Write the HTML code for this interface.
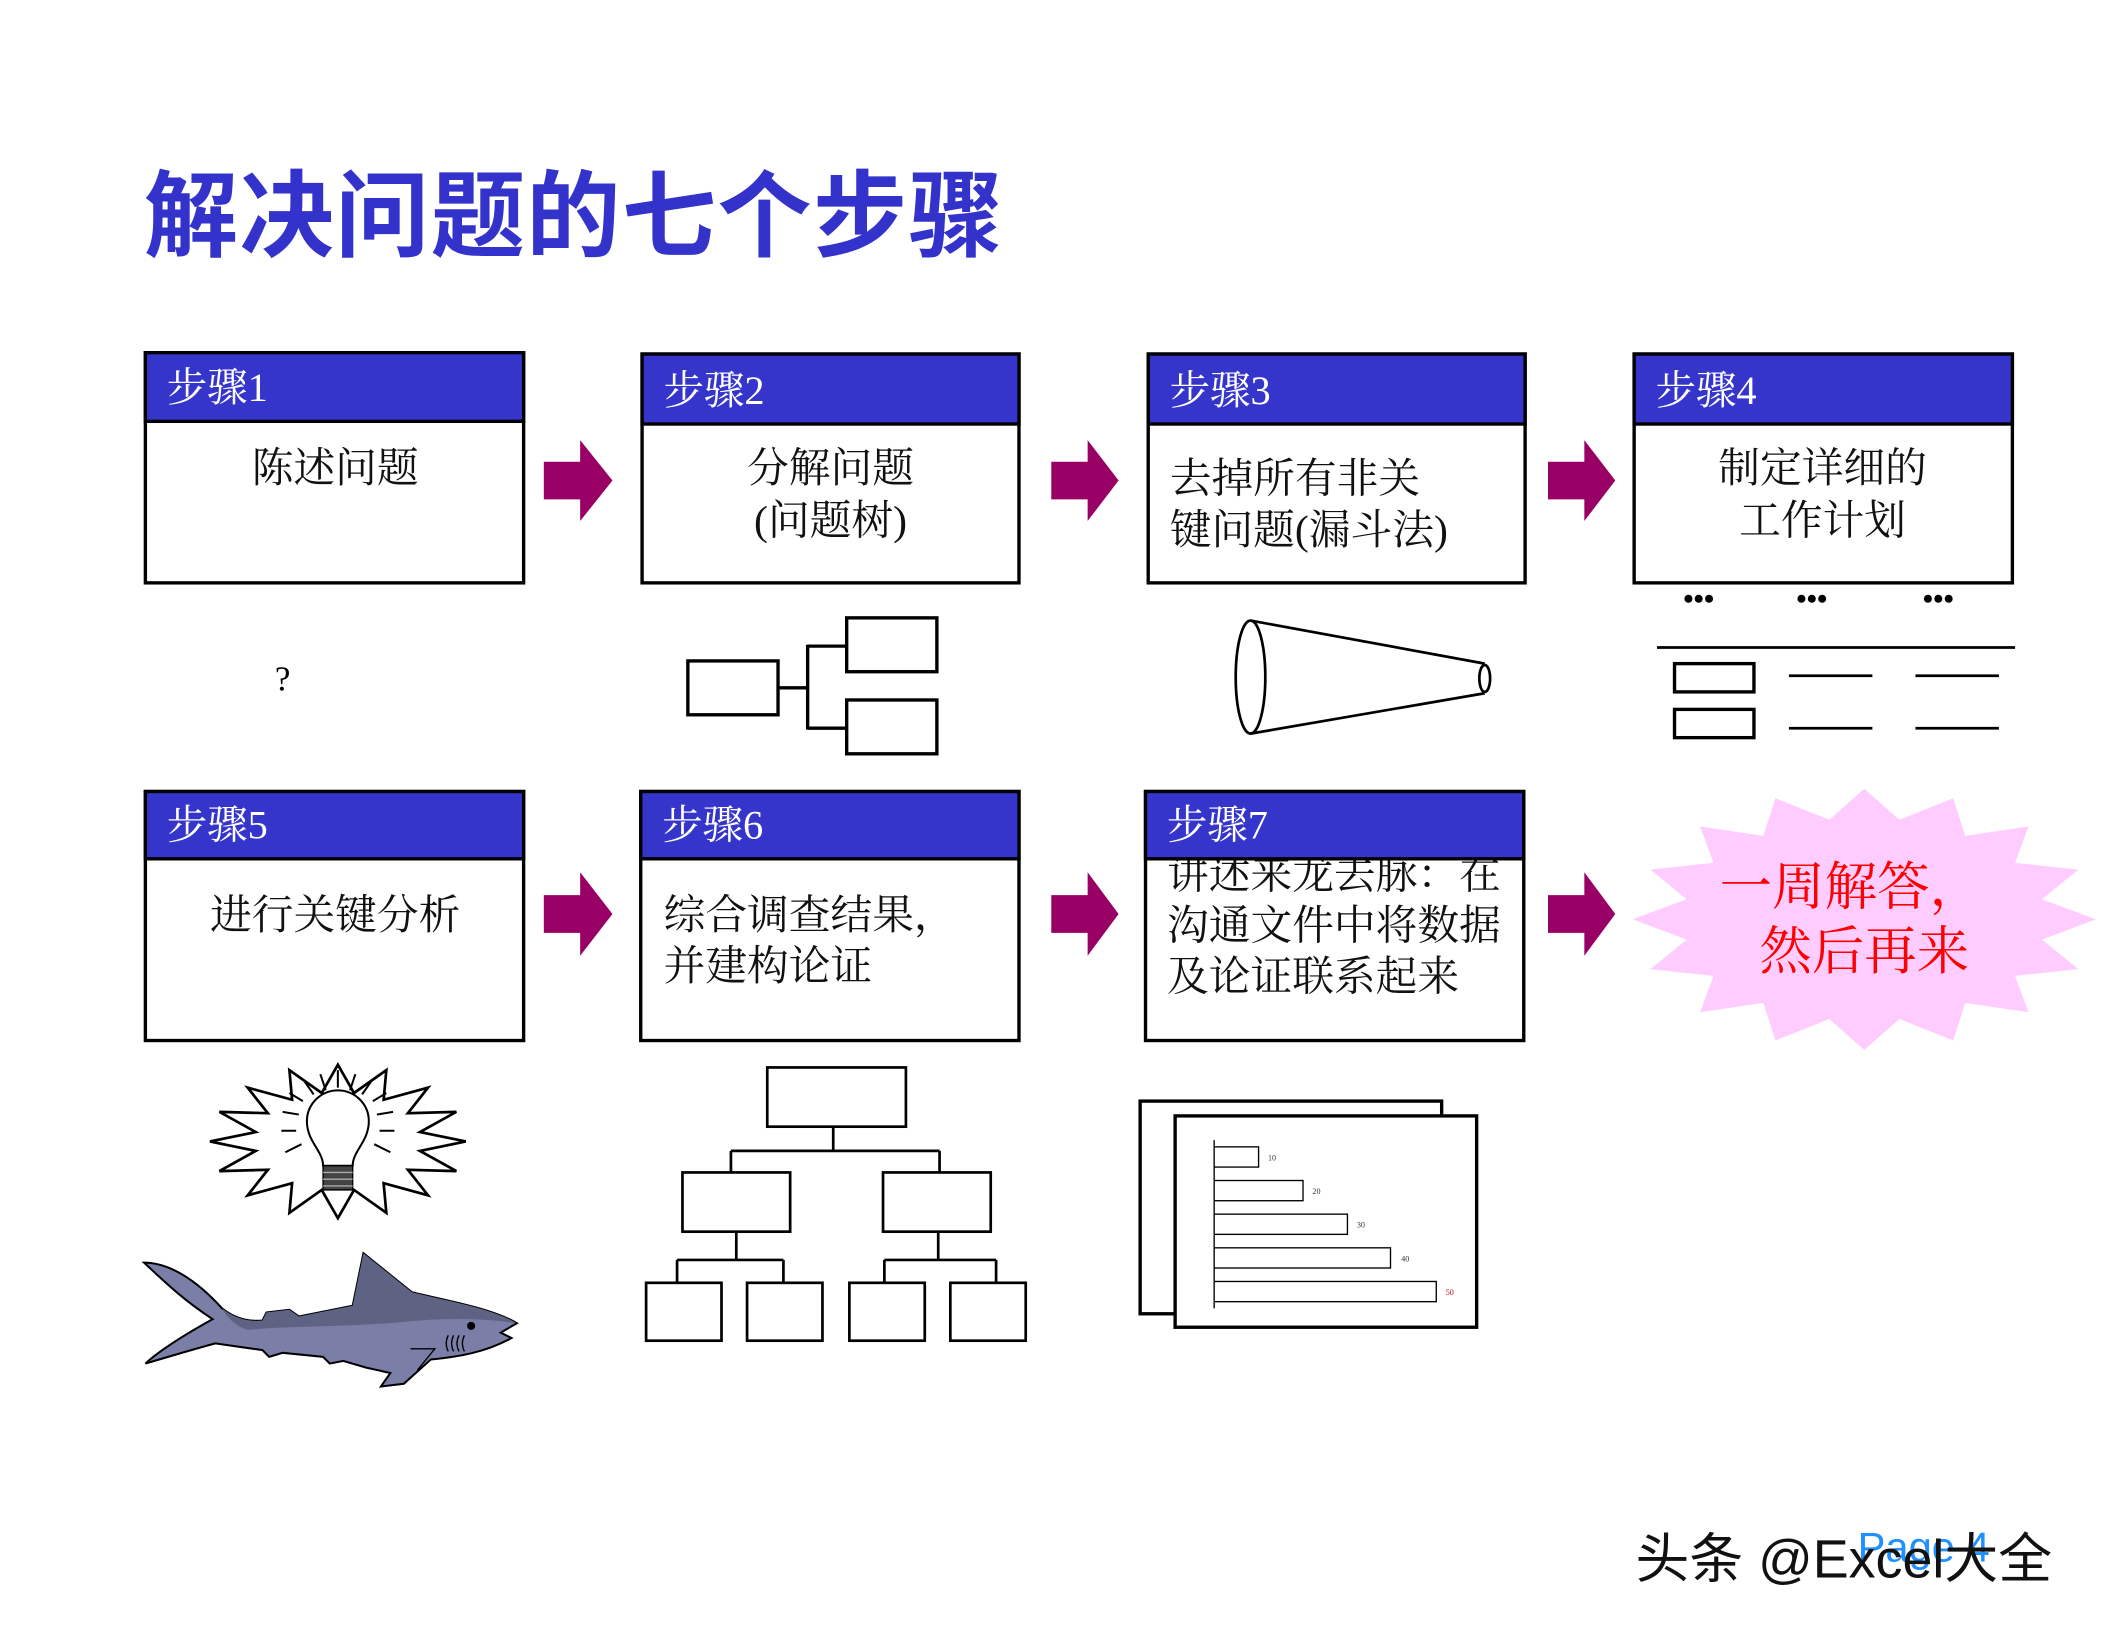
<!DOCTYPE html>
<html><head><meta charset="utf-8"><style>
html,body{margin:0;padding:0;background:#fff}
svg{display:block}
text{font-family:"Liberation Serif","Noto Serif CJK SC",serif}
</style></head><body>
<svg width="2112" height="1632" viewBox="0 0 1569 1212.4" xmlns="http://www.w3.org/2000/svg">
<rect width="1569" height="1213" fill="#fff"/>
<text x="107" y="185" font-size="70" font-weight="bold" fill="#3333CC" letter-spacing="1" style="font-family:'Liberation Sans','Noto Sans CJK SC',sans-serif">解决问题的七个步骤</text>

<g stroke="#000" stroke-width="2.5">
<rect x="108" y="262" width="281" height="171" fill="#fff"/>
<rect x="108" y="262" width="281" height="51" fill="#3535CC"/>
<rect x="477" y="263" width="280" height="170" fill="#fff"/>
<rect x="477" y="263" width="280" height="52" fill="#3535CC"/>
<rect x="853" y="263" width="280" height="170" fill="#fff"/>
<rect x="853" y="263" width="280" height="52" fill="#3535CC"/>
<rect x="1214" y="263" width="281" height="170" fill="#fff"/>
<rect x="1214" y="263" width="281" height="52" fill="#3535CC"/>
<rect x="108" y="588" width="281" height="185" fill="#fff"/>
<rect x="108" y="588" width="281" height="50" fill="#3535CC"/>
<rect x="476" y="588" width="281" height="185" fill="#fff"/>
<rect x="476" y="588" width="281" height="50" fill="#3535CC"/>
<rect x="851" y="588" width="281" height="185" fill="#fff"/>
</g>
<g font-size="31" fill="#111">
<text x="249" y="358" text-anchor="middle">陈述问题</text>
<text x="617" y="358" text-anchor="middle">分解问题</text>
<text x="617" y="397" text-anchor="middle">(问题树)</text>
<text x="869" y="366">去掉所有非关</text>
<text x="869" y="404">键问题(漏斗法)</text>
<text x="1354" y="358" text-anchor="middle">制定详细的</text>
<text x="1354" y="397" text-anchor="middle">工作计划</text>
<text x="249" y="690" text-anchor="middle">进行关键分析</text>
<text x="493" y="690">综合调查结果，</text>
<text x="493" y="728">并建构论证</text>
<text x="867" y="660">讲述来龙去脉：在</text>
<text x="867" y="698">沟通文件中将数据</text>
<text x="867" y="736">及论证联系起来</text>
</g>
<rect x="851" y="588" width="281" height="50" fill="#3535CC" stroke="#000" stroke-width="2.5"/>
<g font-size="30" fill="#fff">
<text x="124" y="298">步骤1</text><text x="493" y="300">步骤2</text><text x="869" y="300">步骤3</text><text x="1230" y="300">步骤4</text>
<text x="124" y="623">步骤5</text><text x="492" y="623">步骤6</text><text x="867" y="623">步骤7</text>
</g>

<g fill="#990066">
<path d="M404 343H431V327L455 357L431 387V371H404Z"/>
<path d="M781 343H808V327L831 357L808 387V371H781Z"/>
<path d="M1150 343H1177V327L1200 357L1177 387V371H1150Z"/>
<path d="M404 665H431V648L455 679L431 710V693H404Z"/>
<path d="M781 665H808V648L831 679L808 710V693H781Z"/>
<path d="M1150 665H1177V648L1200 679L1177 710V693H1150Z"/>
</g>

<polygon fill="#FFCCFF" points="1557,683 1517,698 1544,720 1497,725 1507,752 1460,745 1451,773 1411,757 1385,780 1359,757 1319,773 1310,745 1263,752 1273,725 1226,720 1253,698 1213,683 1253,668 1226,646 1273,641 1263,614 1310,621 1319,593 1359,609 1385,586 1411,609 1451,593 1460,621 1507,614 1497,641 1544,646 1517,668"/>
<g font-size="39" fill="#FF0000" text-anchor="middle">
<text x="1375" y="672">一周解答，</text>
<text x="1385" y="720">然后再来</text>
</g>

<text x="210" y="513" font-size="26" text-anchor="middle" fill="#000">?</text>

<g stroke="#000" stroke-width="2.5" fill="#fff">
<rect x="511" y="491" width="67" height="40"/>
<rect x="629" y="459" width="67" height="40"/>
<rect x="629" y="520" width="67" height="40"/>
<path d="M578 511H600M600 479V542M600 480H629M600 541H629" fill="none"/>
</g>

<g stroke="#000" stroke-width="2" fill="none">
<ellipse cx="929" cy="503" rx="11" ry="42" fill="#fff"/>
<path d="M929 461L1103 493M929 545L1103 515"/>
<ellipse cx="1103" cy="504" rx="4" ry="10"/>
</g>

<g font-size="22" font-weight="bold" fill="#000" style="font-family:'Liberation Sans',sans-serif" text-anchor="middle">
<text x="1262" y="452">•••</text><text x="1346" y="452">•••</text><text x="1440" y="452">•••</text>
</g>
<g stroke="#000" stroke-width="2" fill="none">
<path d="M1231 481H1497"/>
<rect x="1244" y="493" width="59" height="21" stroke-width="2.5"/>
<rect x="1244" y="527" width="59" height="21" stroke-width="2.5"/>
<path d="M1329 502H1391M1329 541H1391M1423 502H1485M1423 541H1485"/>
</g>

<polygon fill="#fff" stroke="#000" stroke-width="2" points="346,848 312,855 339,870 303,869 318,888 285,879 287,901 263,884 251,905 239,884 215,901 217,879 184,888 199,869 163,870 190,855 156,848 190,841 163,826 199,827 184,808 217,817 215,795 239,812 251,791 263,812 287,795 285,817 318,808 303,827 339,826 312,841"/>
<g stroke="#000" stroke-width="1.5" fill="none">
<path d="M240 866C240 855 228 848 228 833A23 23 0 1 1 274 833C274 848 262 855 262 866Z" fill="#fff"/>
<path d="M215 812L225 818M210 826L222 828M209 840L220 840M212 856L224 850M287 812L277 818M292 826L280 828M293 840L282 840M290 856L278 850M238 798L242 810M251 795V808M264 798L260 810M226 803L233 813M276 803L269 813"/>
</g>
<rect x="240" y="866" width="22" height="18" fill="#444" stroke="#000"/>
<path d="M240 871H262M240 876H262M240 881H262" stroke="#aaa" stroke-width="1"/>

<path d="M107 938C125 938 145 950 165 972C175 980 185 982 195 981L198 975L215 973L222 978L262 970L270 931L306 960C335 967 365 972 384 983L372 990L380 994C360 1005 340 1008 320 1010L300 1028L283 1030L290 1020L272 1016L255 1011L245 1013L240 1008L210 1005L200 1008L195 1003L160 998C145 1002 125 1008 108 1013C120 1002 140 990 158 980C135 965 120 950 107 938Z" fill="#7B7FA8" stroke="#000" stroke-width="1.5"/>
<path d="M165 972C175 980 185 982 195 981L198 975L215 973L222 978L262 970L270 931L306 960C335 967 365 972 384 983C350 978 320 980 300 982C260 986 210 985 185 988C175 986 168 978 165 972Z" fill="#5F6383"/>
<circle cx="350" cy="985" r="3" fill="#000"/>
<path d="M333 992q-3 6 0 12M337 992q-3 6 0 12M341 992q-3 6 0 12M345 992q-3 6 0 12" stroke="#000" fill="none" stroke-width="1"/>
<path d="M305 1002H323L310 1018" stroke="#000" fill="none" stroke-width="1"/>

<g stroke="#000" stroke-width="2" fill="#fff">
<rect x="570" y="793" width="103" height="44"/>
<rect x="507" y="871" width="80" height="44"/>
<rect x="656" y="871" width="80" height="44"/>
<rect x="480" y="953" width="56" height="43"/>
<rect x="555" y="953" width="56" height="43"/>
<rect x="631" y="953" width="56" height="43"/>
<rect x="706" y="953" width="56" height="43"/>
<path d="M619 837V855M543 855H698M543 855V871M698 855V871M547 915V936M503 936H582M503 936V953M582 936V953M697 915V936M657 936H740M657 936V953M740 936V953" fill="none"/>
</g>

<g stroke="#000" fill="#fff">
<rect x="847" y="818" width="224" height="158" stroke-width="2.5"/>
<rect x="873" y="829" width="224" height="157" stroke-width="2.5"/>
<path d="M902 847V972" stroke-width="1"/>
<rect x="902" y="852" width="33" height="15" stroke-width="1"/>
<rect x="902" y="877" width="66" height="15" stroke-width="1"/>
<rect x="902" y="902" width="99" height="15" stroke-width="1"/>
<rect x="902" y="927" width="131" height="15" stroke-width="1"/>
<rect x="902" y="952" width="165" height="15" stroke-width="1"/>
</g>
<g font-size="6" style="font-family:'Liberation Sans',sans-serif">
<text x="942" y="862" fill="#333">10</text><text x="975" y="887" fill="#333">20</text><text x="1008" y="912" fill="#333">30</text><text x="1041" y="937" fill="#333">40</text><text x="1074" y="962" fill="#c00">50</text>
</g>

<text x="1380" y="1160" font-size="31" fill="#1E90FF" style="font-family:'Liberation Sans',sans-serif">Page 4</text>
<text x="1215" y="1172" font-size="40" fill="#111" style="font-family:'Liberation Sans','Noto Sans CJK SC',sans-serif">头条 @Excel大全</text>
</svg>
</body></html>
